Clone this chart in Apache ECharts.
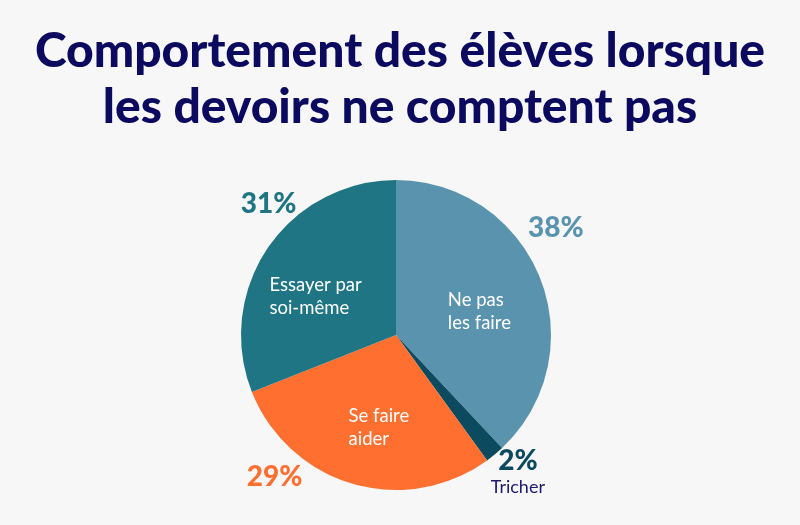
<!DOCTYPE html>
<html>
<head>
<meta charset="utf-8">
<script src="https://cdn.jsdelivr.net/npm/echarts@6/dist/echarts.min.js"></script>
<style>
html,body{margin:0;padding:0;background:#f7f7f7;}
#chart{width:800px;height:525px;}
</style>
</head>
<body>
<div id="chart"></div>
<script>
const categories = ['Ne pas les faire', 'Tricher', 'Se faire aider', 'Essayer par soi-même'];
const labelLines = [['Ne pas', 'les faire'], ['Tricher'], ['Se faire', 'aider'], ['Essayer par', 'soi-même']];
const values = [38, 2, 29, 31];
const percentLabels = ['38%', '2%', '29%', '31%'];
const colors = ['#5a93ae', '#0b4a5f', '#ff6f30', '#1f7583'];

const chart = echarts.init(document.getElementById('chart'));

const innerOffsets = [[27, 6], [0, 0], [25, 15], [-10, 7]];
const outerOffsets = [[-15, -38], [2, -7], [-69, -39], [28, -25]];

const innerData = categories.map((c, i) => ({
  name: c,
  value: values[i],
  itemStyle: { color: colors[i] },
  label: i === 1 ? { show: false } : {
    show: true,
    offset: innerOffsets[i],
    formatter: labelLines[i].map(s => '{a|' + s + '}').join('\n')
  }
}));

const outerData = categories.map((c, i) => ({
  name: c,
  value: values[i],
  itemStyle: { color: 'rgba(0,0,0,0)' },
  label: {
    show: true,
    offset: outerOffsets[i],
    formatter: i === 1 ? '{p|' + percentLabels[i] + '}\n{t|' + labelLines[i][0] + '}' : '{p|' + percentLabels[i] + '}',
    rich: {
      p: { fontFamily: 'Lato', fontWeight: 900, fontSize: 28, color: colors[i], lineHeight: 28 },
      t: { fontFamily: 'Lato', fontSize: 18, color: '#1c1a6b', lineHeight: 24 }
    }
  }
}));

chart.setOption({
  backgroundColor: '#f7f7f7',
  animation: false,
  title: {
    text: 'Comportement des élèves lorsque\nles devoirs ne comptent pas',
    left: 'center',
    top: 19,
    textStyle: {
      fontFamily: 'Lato',
      fontWeight: 900,
      fontSize: 48,
      lineHeight: 56,
      color: '#0c0a5e'
    }
  },
  series: [
    {
      type: 'pie',
      center: [396, 335],
      radius: [0, 155],
      startAngle: 90,
      clockwise: true,
      silent: true,
      data: innerData,
      itemStyle: { borderWidth: 0 },
      label: {
        position: 'inside',
        rich: {
          a: { fontFamily: 'Lato', fontSize: 18.5, lineHeight: 23, color: '#ffffff', width: 100, align: 'left' }
        }
      },
      labelLine: { show: false }
    },
    {
      type: 'pie',
      center: [396, 335],
      radius: [155, 215],
      startAngle: 90,
      clockwise: true,
      silent: true,
      data: outerData,
      itemStyle: { borderWidth: 0 },
      label: { position: 'inside' },
      labelLine: { show: false }
    }
  ]
});
</script>
</body>
</html>
